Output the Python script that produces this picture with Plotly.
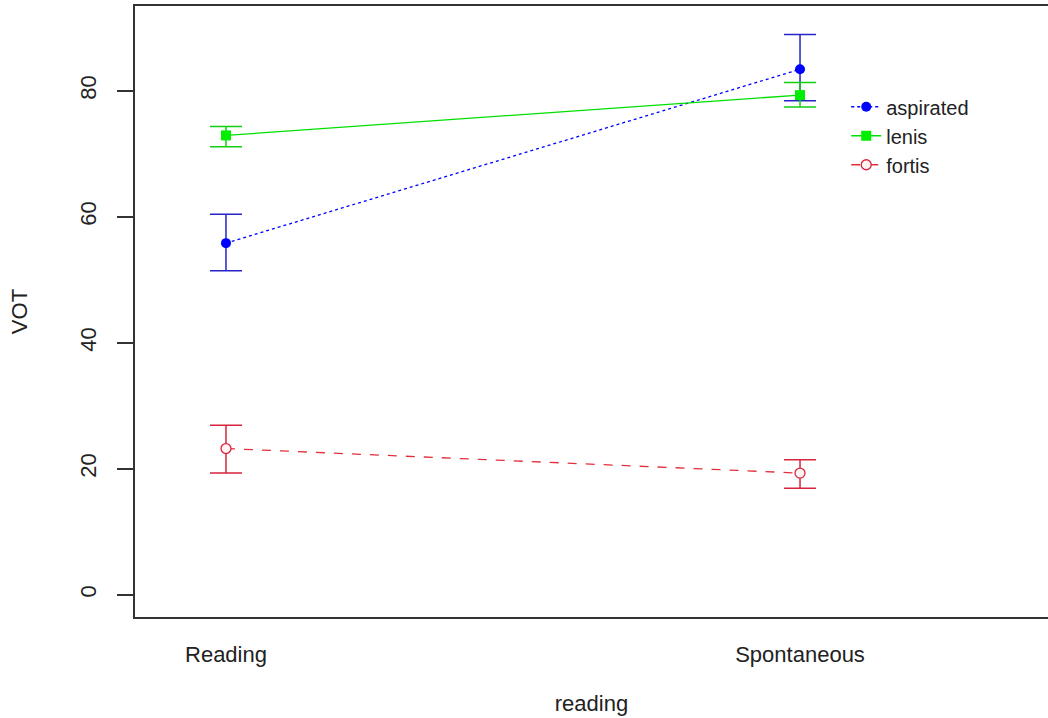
import plotly.graph_objects as go

# Condition levels on the x axis
conditions = ["Reading", "Spontaneous"]
cond_pos = [1, 2]

# Mean VOT per stop type, with upper and lower limits of the error bars
aspirated_mean = [55.8, 83.4]
aspirated_upper = [60.4, 88.9]
aspirated_lower = [51.4, 78.4]

lenis_mean = [72.9, 79.3]
lenis_upper = [74.3, 81.3]
lenis_lower = [71.1, 77.4]

fortis_mean = [23.2, 19.3]
fortis_upper = [26.9, 21.4]
fortis_lower = [19.3, 16.9]

y_ticks = [0, 20, 40, 60, 80]

FONT = "Liberation Sans, Arial, Helvetica, sans-serif"

series = [
    dict(name="aspirated", mean=aspirated_mean, up=aspirated_upper, lo=aspirated_lower,
         line="#0000FF", bar="#2424C8", dash="dot",
         marker=dict(symbol="circle", size=10, color="#0000FF")),
    dict(name="lenis", mean=lenis_mean, up=lenis_upper, lo=lenis_lower,
         line="#00E000", bar="#10D010", dash="solid",
         marker=dict(symbol="square", size=10, color="#00EE00")),
    dict(name="fortis", mean=fortis_mean, up=fortis_upper, lo=fortis_lower,
         line="#E0303C", bar="#D8243C", dash="dash",
         marker=dict(symbol="circle", size=10, color="#FFF4F4",
                     line=dict(width=1.3, color="#D8243C"))),
]

fig = go.Figure()
for s in series:
    plus = [u - m for u, m in zip(s["up"], s["mean"])]
    minus = [m - l for m, l in zip(s["mean"], s["lo"])]
    fig.add_trace(go.Scatter(
        x=cond_pos, y=s["mean"], name=s["name"], mode="lines+markers",
        line=dict(color=s["line"], width=1.3, dash=s["dash"]),
        marker=s["marker"],
        error_y=dict(type="data", symmetric=False, array=plus, arrayminus=minus,
                     color=s["bar"], thickness=1.5, width=16),
    ))

fig.update_layout(
    width=1048, height=718, autosize=False,
    margin=dict(l=135, r=0, t=6, b=101),
    paper_bgcolor="white", plot_bgcolor="white",
    font=dict(family=FONT, size=22, color="#222222"),
    showlegend=True,
    legend=dict(x=0.779, y=0.867, xanchor="left", yanchor="top",
                bgcolor="rgba(0,0,0,0)", font=dict(size=20, color="#222222"),
                tracegroupgap=0, itemwidth=30),
    xaxis=dict(
        range=[0.8415, 2.432], tickmode="array", tickvals=cond_pos, ticktext=conditions,
        ticks="", showgrid=False, zeroline=False,
        showline=True, linecolor="#333333", linewidth=1.5, mirror=True,
        ticklabelstandoff=17,
        title=dict(text="reading", standoff=29, font=dict(size=22)),
        automargin=False,
    ),
    yaxis=dict(
        range=[-3.54, 93.44], tickmode="array", tickvals=y_ticks,
        ticks="outside", ticklen=16, tickwidth=1.5, tickcolor="#333333",
        tickangle=-90, showgrid=False, zeroline=False,
        showline=True, linecolor="#333333", linewidth=1.5, mirror=False,
        ticklabelstandoff=12,
        title=dict(text="VOT", standoff=43, font=dict(size=22)),
        automargin=False,
    ),
)

fig.write_html("out.html")
